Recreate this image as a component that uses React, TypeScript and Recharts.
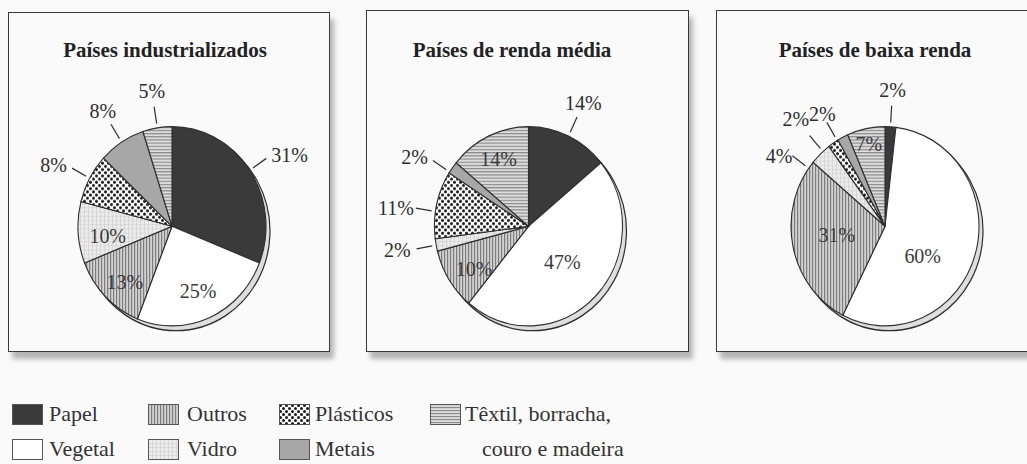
// ================================================
// Composição do lixo por renda - três gráficos de pizza
// ================================================
import React from 'react';
import { PieChart, Pie, Cell } from 'recharts';

// Categorias, na ordem de desenho (sentido horário a partir do topo)
const CATEGORIES = ['Papel', 'Vegetal', 'Outros', 'Vidro', 'Plásticos', 'Metais', 'Têxtil, borracha, couro e madeira'];

// Percentuais por categoria
const INDUSTRIALIZADOS = [31, 25, 13, 10, 8, 8, 5];
const RENDA_MEDIA = [14, 47, 10, 2, 11, 2, 14];
const BAIXA_RENDA = [2, 60, 31, 4, 2, 2, 7];

const TITLES = ['Países industrializados', 'Países de renda média', 'Países de baixa renda'];

const FILL_KEYS = ['papel', 'vegetal', 'outros', 'vidro', 'plasticos', 'metais', 'textil'];

// posição dos rótulos: null = fora com linha, número = dentro (fração do raio)
const LABEL_POS = [
    [null, 0.7, 0.75, 0.69, null, null, null],
    [null, 0.51, 0.72, null, null, null, 0.75],
    [null, 0.5, 0.52, null, null, null, 0.85],
];
// ajustes finos [graus, px] para rótulos apertados
const LABEL_NUDGE = [
    [[0, 0], [0, 0], [-3, 0], [-4, 0], [0, 0], [0, 0], [0, 0]],
    [[0, 0], [0, 0], [-4, 0], [0, 0], [-4, -4], [-3, 0], [0, 0]],
    [[0, 0], [20, 0], [2, 0], [-11, -6], [-8, 6], [-4, -6], [0, 0]],
];

const PANELS = [
    { left: 8, top: 12, w: 322, h: 340, cx: 167, titleX: 165, values: INDUSTRIALIZADOS },
    { left: 366, top: 10, w: 323, h: 342, cx: 523.5, titleX: 512, values: RENDA_MEDIA },
    { left: 716, top: 10, w: 330, h: 342, cx: 880, titleX: 875, values: BAIXA_RENDA },
];

const CY = 221;
const R = 94;
const STRETCH = 1.06;
const SERIF = '"Liberation Serif", "DejaVu Serif", serif';
const INK = '#2e2e2e';
const RAD = Math.PI / 180;

function fillFor(prefix: string, key: string) {
    if (key === 'papel') return '#3a3a3a';
    if (key === 'vegetal') return '#ffffff';
    if (key === 'metais') return '#a7a7a7';
    return `url(#${prefix}-${key})`;
}

function PatternDefs({ p }: { p: string }) {
    return (
        <defs>
            <pattern id={`${p}-outros`} width={3} height={6} patternUnits="userSpaceOnUse">
                <rect width={3} height={6} fill="#d2d2d2" />
                <rect width={1.2} height={6} fill="#7c7c7c" />
            </pattern>
            <pattern id={`${p}-vidro`} width={4} height={4} patternUnits="userSpaceOnUse">
                <rect width={4} height={4} fill="#ebebeb" />
                <path d="M0 0.5H4M0.5 0V4" stroke="#d2d2d2" strokeWidth={0.7} />
            </pattern>
            <pattern id={`${p}-plasticos`} width={6} height={6} patternUnits="userSpaceOnUse">
                <rect width={6} height={6} fill="#ffffff" />
                <circle cx={1.5} cy={1.5} r={1.5} fill="#1c1c1c" />
                <circle cx={4.5} cy={4.5} r={1.5} fill="#1c1c1c" />
            </pattern>
            <pattern id={`${p}-textil`} width={6} height={3} patternUnits="userSpaceOnUse">
                <rect width={6} height={3} fill="#dcdcdc" />
                <rect width={6} height={1.1} fill="#8a8a8a" />
            </pattern>
        </defs>
    );
}

function makeLabel(pos: (number | null)[], nudge: number[][]) {
    return (props: any) => {
        const { cx, cy, midAngle, outerRadius, index } = props;
        const value = props.value ?? props.payload?.value;
        const inside = pos[index];
        const [da, dr] = nudge[index] || [0, 0];
        // graus no sentido horário a partir das 12h
        const a = (90 - midAngle + da) * RAD;
        const sx = Math.sin(a);
        const sy = -Math.cos(a);
        const txt = `${value}%`;
        if (inside != null) {
            const d = outerRadius * inside + dr;
            return (
                <text x={cx + d * sx} y={cy + d * sy} textAnchor="middle" dominantBaseline="central"
                    fontFamily={SERIF} fontSize={20} fill="#3a3a3a">
                    {txt}
                </text>
            );
        }
        const r0 = outerRadius + 4;
        const r1 = outerRadius + 20;
        let anchor = 'middle';
        let d = outerRadius + 35 + dr;
        if (sx > 0.7) { anchor = 'start'; d = outerRadius + 26 + dr; }
        else if (sx < -0.7) { anchor = 'end'; d = outerRadius + 26 + dr; }
        return (
            <g>
                <line x1={cx + r0 * sx} y1={cy + r0 * sy} x2={cx + r1 * sx} y2={cy + r1 * sy}
                    stroke={INK} strokeWidth={1.2} />
                <text x={cx + d * sx} y={cy + d * sy} textAnchor={anchor} dominantBaseline="central"
                    fontFamily={SERIF} fontSize={20} fill={INK}>
                    {txt}
                </text>
            </g>
        );
    };
}

const SHADOW = [{ name: 'base', value: 1 }];

function Panel({ i }: { i: number }) {
    const panel = PANELS[i];
    const data = CATEGORIES.map((name, k) => ({ name, value: panel.values[k] }));
    const cxLocal = panel.cx - panel.left;
    const prefix = `p${i}`;
    return (
        <>
            <div style={{
                position: 'absolute', left: panel.left, top: panel.top, width: panel.w, height: panel.h,
                boxSizing: 'border-box', border: '1.5px solid #3a3a3a', background: '#fafafa',
                boxShadow: '4px 7px 5px rgba(0,0,0,0.28)',
            }} />
            <div style={{
                position: 'absolute', left: panel.titleX - 160, top: 40, width: 320,
                textAlign: 'center', fontFamily: SERIF, fontWeight: 'bold', fontSize: 21,
                lineHeight: '21px', color: '#222', whiteSpace: 'nowrap',
            }}>
                {TITLES[i]}
            </div>
            <div style={{
                position: 'absolute', left: panel.left, top: 0, width: panel.w, height: 360,
                transform: `scaleY(${STRETCH})`, transformOrigin: `${cxLocal}px ${CY}px`,
            }}>
                <PieChart width={panel.w} height={360}>
                    <PatternDefs p={prefix} />
                    <Pie data={SHADOW} dataKey="value" cx={cxLocal + 4} cy={CY + 4.5} outerRadius={R}
                        startAngle={90} endAngle={-270} stroke={INK} strokeWidth={1.2}
                        fill="#dedede" isAnimationActive={false} legendType="none" />
                    <Pie data={data} dataKey="value" nameKey="name" cx={cxLocal} cy={CY} outerRadius={R}
                        startAngle={90} endAngle={-270} stroke={INK} strokeWidth={1.1}
                        labelLine={false} label={makeLabel(LABEL_POS[i], LABEL_NUDGE[i])}
                        isAnimationActive={false}>
                        {data.map((entry, k) => (
                            <Cell key={`cell-${k}`} fill={fillFor(prefix, FILL_KEYS[k])} />
                        ))}
                    </Pie>
                </PieChart>
            </div>
        </>
    );
}

// legenda em duas linhas, preenchida por colunas
const LEGEND_COLS = [{ x: 12, tx: 49 }, { x: 148, tx: 187 }, { x: 279, tx: 315 }, { x: 430, tx: 465 }];
const LEGEND_ROWS = [403, 438];

function Legend() {
    const textStyle: React.CSSProperties = {
        position: 'absolute', fontFamily: SERIF, fontSize: 22, lineHeight: '22px',
        color: '#333', whiteSpace: 'nowrap',
    };
    return (
        <>
            {CATEGORIES.map((name, k) => {
                const col = LEGEND_COLS[Math.floor(k / 2)];
                const top = LEGEND_ROWS[k % 2];
                const key = FILL_KEYS[k];
                const parts = name.split(', couro');
                return (
                    <React.Fragment key={name}>
                        <svg width={31} height={21} style={{ position: 'absolute', left: col.x, top: top + 1 }}>
                            <PatternDefs p={`lg${k}`} />
                            <rect x={0.5} y={0.5} width={30} height={20} fill={fillFor(`lg${k}`, key)}
                                stroke="#555" strokeWidth={1} />
                        </svg>
                        <div style={{ ...textStyle, left: col.tx, top }}>
                            {parts.length > 1 ? `${parts[0]},` : name}
                        </div>
                        {parts.length > 1 && (
                            <div style={{ ...textStyle, left: col.tx + 17, top: LEGEND_ROWS[1] }}>
                                {`couro${parts[1]}`}
                            </div>
                        )}
                    </React.Fragment>
                );
            })}
        </>
    );
}

export default function App() {
    return (
        <div style={{
            position: 'absolute', left: 0, top: 0, width: 1027, height: 464, overflow: 'hidden',
            background: '#fafafa',
        }}>
            {PANELS.map((_, i) => <Panel key={i} i={i} />)}
            <Legend />
        </div>
    );
}
